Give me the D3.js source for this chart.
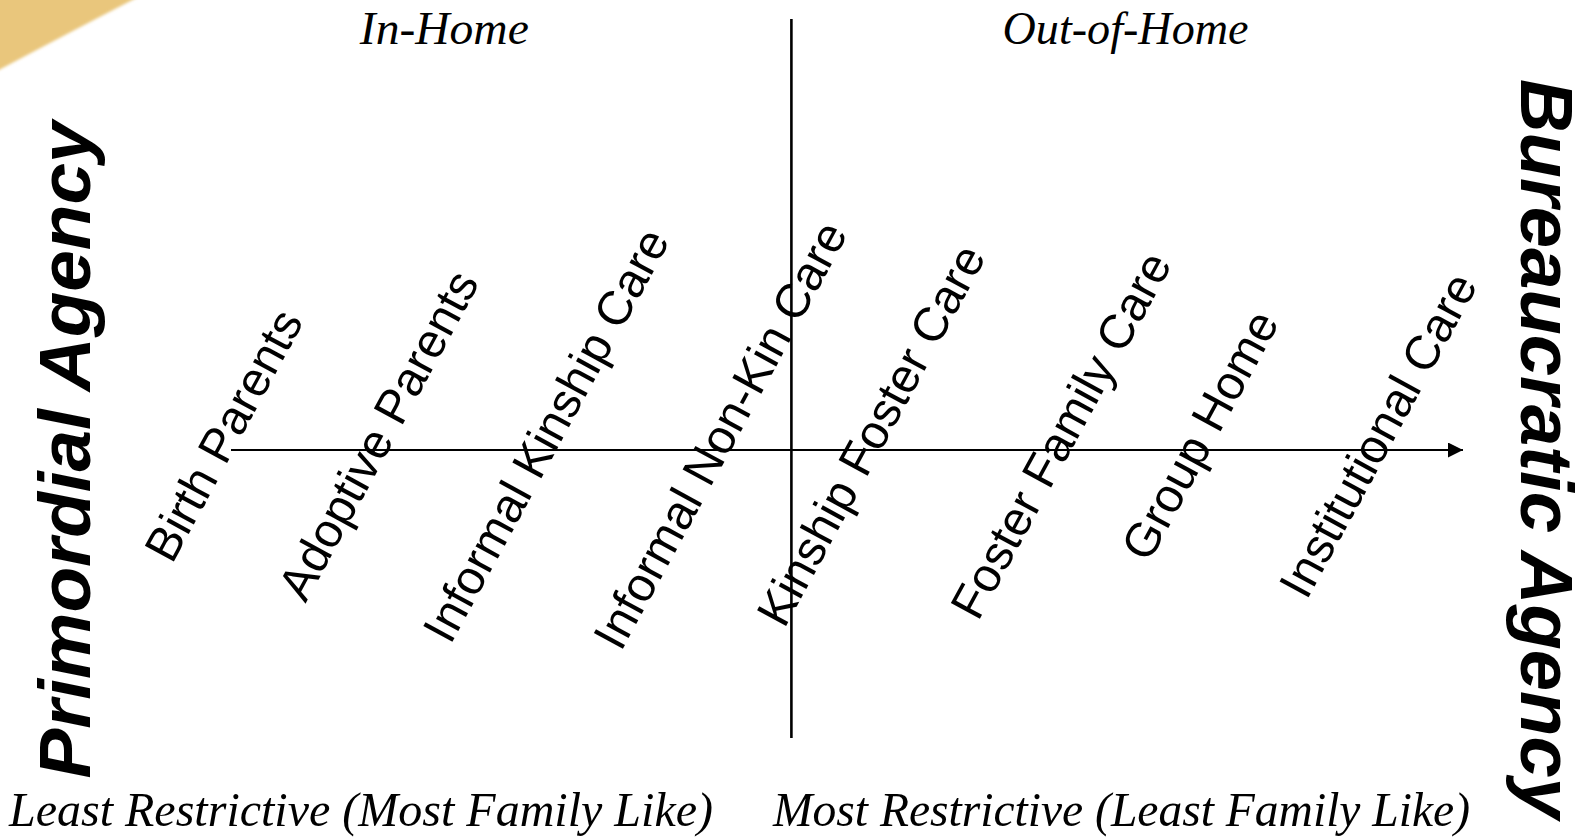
<!DOCTYPE html>
<html lang="en">
<head>
  <meta charset="utf-8">
  <script src="https://d3js.org/d3.v7.min.js"></script>
  <style>
    body { margin: 0; background: #fff; }
    .lbl { font-family: "Liberation Sans", Arial, sans-serif; }
    .serif { font-family: "Liberation Serif", "Times New Roman", serif; font-style: italic; }
  </style>
</head>
<body>
<script>

// placements along the continuum, least to most restrictive
var categories = ["Birth Parents", "Adoptive Parents", "Informal Kinship Care",
                  "Informal Non-Kin Care", "Kinship Foster Care", "Foster Family Care",
                  "Group Home", "Institutional Care"];
var restrictiveness = [4.1, 16.0, 28.9, 42.3, 53.9, 68.5, 79.2, 92.9];
var dividerAt = 47.8;   // boundary between in-home and out-of-home settings

var sectionTitles = ["In-Home", "Out-of-Home"];
var sectionCentres = [21.1, 73.5];
var endLabels = ["Least Restrictive (Most Family Like)", "Most Restrictive (Least Family Like)"];
var sideLabels = ["Primordial Agency", "Bureaucratic Agency"];

var width = 1585,
    height = 837,
    axisY = 450,
    labelY = 435;

var x = d3.scaleLinear()
    .domain([0, 100])
    .range([170, 1470]);

var svg = d3.select("body").append("svg")
    .attr("width", width)
    .attr("height", height);

var defs = svg.append("defs");
defs.append("filter").attr("id", "soft")
  .append("feGaussianBlur").attr("stdDeviation", 1.5);
defs.append("marker")
    .attr("id", "arrow")
    .attr("viewBox", "0 0 10 10")
    .attr("refX", 10).attr("refY", 5)
    .attr("markerWidth", 7.5).attr("markerHeight", 7.5)
    .attr("markerUnits", "strokeWidth")
    .attr("orient", "auto")
  .append("path")
    .attr("d", "M0,0L10,5L0,10Z")
    .attr("fill", "#000");

// gold corner decoration
svg.append("path")
    .attr("d", "M-5,-5L142,-5Q78,28 -5,72Z")
    .attr("fill", "#e9c67b")
    .attr("filter", "url(#soft)");

// continuum arrow
svg.append("line")
    .attr("x1", 231).attr("x2", 1463)
    .attr("y1", axisY).attr("y2", axisY)
    .attr("stroke", "#000")
    .attr("stroke-width", 2)
    .attr("marker-end", "url(#arrow)");

// in-home / out-of-home divider
svg.append("line")
    .attr("x1", x(dividerAt)).attr("x2", x(dividerAt))
    .attr("y1", 19).attr("y2", 738)
    .attr("stroke", "#000")
    .attr("stroke-width", 2.6);

svg.selectAll(".cat")
    .data(categories)
  .enter().append("text")
    .attr("class", "lbl cat")
    .attr("transform", function(d, i) {
      return "translate(" + x(restrictiveness[i]) + "," + labelY + ")rotate(-61.5)";
    })
    .attr("text-anchor", "middle")
    .attr("dy", "0.35em")
    .style("font-size", "48px")
    .text(function(d) { return d; });

var titleWidths = [169, 246];
svg.selectAll(".section")
    .data(sectionTitles)
  .enter().append("text")
    .attr("class", "serif section")
    .attr("x", function(d, i) { return x(sectionCentres[i]); })
    .attr("y", 44)
    .attr("text-anchor", "middle")
    .attr("textLength", function(d, i) { return titleWidths[i]; })
    .attr("lengthAdjust", "spacingAndGlyphs")
    .style("font-size", "47px")
    .text(function(d) { return d; });

svg.selectAll(".end")
    .data(endLabels)
  .enter().append("text")
    .attr("class", "serif end")
    .attr("x", function(d, i) { return i === 0 ? 9 : 773; })
    .attr("y", 826)
    .attr("textLength", function(d, i) { return i === 0 ? 704 : 697; })
    .attr("lengthAdjust", "spacingAndGlyphs")
    .style("font-size", "49px")
    .text(function(d) { return d; });

// side captions
svg.append("text")
    .attr("class", "lbl")
    .attr("transform", "translate(90,450)rotate(-90)")
    .attr("text-anchor", "middle")
    .attr("textLength", 657)
    .attr("lengthAdjust", "spacingAndGlyphs")
    .style("font-size", "72px")
    .style("font-weight", "bold")
    .style("font-style", "italic")
    .text(sideLabels[0]);

svg.append("text")
    .attr("class", "lbl")
    .attr("transform", "translate(1521,449)rotate(90)")
    .attr("text-anchor", "middle")
    .attr("textLength", 740)
    .attr("lengthAdjust", "spacingAndGlyphs")
    .style("font-size", "74px")
    .style("font-weight", "bold")
    .style("font-style", "italic")
    .text(sideLabels[1]);

</script>
</body>
</html>
